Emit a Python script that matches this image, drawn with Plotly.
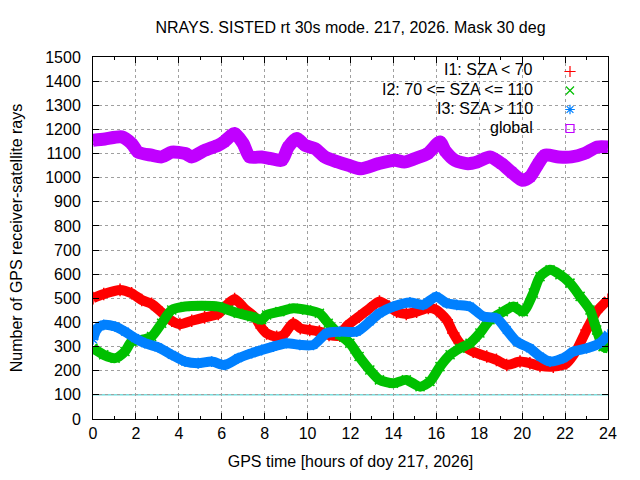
import plotly.graph_objects as go

# ---------------- data ----------------
title_text = "NRAYS. SISTED rt 30s mode. 217, 2026. Mask 30 deg"
x_title = "GPS time [hours of doy 217, 2026]"
y_title = "Number of GPS receiver-satellite rays"
legend_labels = ["I1: SZA < 70", "I2: 70 <= SZA <= 110", "I3: SZA > 110", "global"]
ref_level = 100

i1_hours = [0, 0.5, 1.26, 1.8, 2.27, 2.73, 3.2, 3.67, 4.05, 4.6, 5.2, 5.84, 6.2, 6.6, 7.08,
            7.55, 7.86, 8.09, 8.56, 8.87, 9.33, 9.66, 10.1, 10.55, 11.0, 11.5, 11.8, 12.4,
            12.9, 13.35, 13.8, 14.15, 14.6, 15.08, 15.63, 16.0, 16.48, 16.79, 17.1, 17.72,
            18.35, 18.8, 19.28, 19.9, 20.36, 20.83, 21.45, 22.07, 22.54, 23.0, 23.47, 24]
i1_rays = [501, 518, 535, 521, 493, 477, 442, 407, 393, 407, 421, 435, 469, 497, 456,
           421, 377, 355, 341, 348, 397, 376, 369, 362, 348, 345, 383, 425,
           459, 487, 466, 445, 435, 445, 460, 452, 411, 356, 314, 279,
           259, 245, 224, 238, 231, 220, 217, 231, 286, 369, 445, 494]

i2_hours = [0, 0.5, 1.03, 1.49, 1.8, 2.27, 2.73, 3.2, 3.67, 4.29, 5.06, 5.84, 6.3, 6.77,
            7.4, 7.86, 8.09, 8.71, 9.33, 9.96, 10.55, 10.96, 11.5, 11.97, 12.4, 12.9, 13.35,
            14.0, 14.6, 15.24, 15.7, 16.17, 16.64, 17.1, 17.57, 18.03, 18.5, 19.12, 19.59,
            20.05, 20.52, 20.83, 21.3, 21.76, 22.23, 22.7, 23.16, 23.47, 23.77, 24]
i2_rays = [293, 266, 252, 280, 321, 328, 342, 397, 452, 466, 469, 466, 452, 438,
           424, 411, 431, 445, 459, 452, 438, 397, 349, 314, 259, 203, 162,
           148, 162, 134, 155, 217, 266, 293, 314, 356, 411, 445, 466,
           445, 522, 590, 618, 598, 563, 508, 452, 369, 300, 293]

i3_hours = [0, 0.2, 0.5, 1.03, 1.49, 1.96, 2.42, 3.04, 3.67, 4.29, 4.9, 5.53, 6.15, 6.77,
            7.4, 7.86, 8.4, 9.02, 9.64, 10.27, 10.89, 11.5, 12.29, 12.9, 13.35, 14.0,
            14.77, 15.39, 16.0, 16.48, 16.95, 17.57, 18.19, 18.8, 19.28, 19.74, 20.36,
            20.83, 21.3, 21.92, 22.38, 23.0, 23.62, 24]
i3_rays = [330, 375, 390, 383, 362, 335, 314, 297, 266, 238, 231, 238, 224, 252,
           273, 286, 300, 314, 307, 307, 356, 362, 362, 404, 438, 466,
           483, 473, 507, 480, 473, 466, 425, 418, 369, 321, 293,
           259, 238, 252, 279, 293, 314, 349]

gl_hours = [0, 0.56, 1.34, 1.8, 2.1, 2.73, 3.2, 3.67, 4.3, 4.6, 5.2, 5.83, 6.1, 6.6, 7.0,
            7.3, 7.86, 8.3, 8.8, 9.1, 9.5, 9.88, 10.35, 10.8, 11.4, 11.9, 12.5, 13.3, 14.07,
            14.5, 15.0, 15.6, 16.17, 16.4, 16.87, 17.47, 17.9, 18.5, 19.04, 19.5, 20.0,
            20.36, 20.75, 21.06, 21.7, 22.3, 22.9, 23.5, 24]
gl_rays = [1155, 1160, 1169, 1141, 1106, 1093, 1086, 1106, 1100, 1086, 1113, 1134, 1148,
           1183, 1141, 1086, 1086, 1079, 1072, 1127, 1162, 1134, 1120, 1086, 1065, 1051,
           1037, 1058, 1072, 1065, 1079, 1100, 1148, 1113, 1072, 1058, 1065, 1086, 1058,
           1023, 989, 1003, 1058, 1093, 1086, 1086, 1100, 1127, 1127]

# ---------------- styles ----------------
FONT = "Liberation Sans, Arial, sans-serif"
FS = 16
series = [
    (i1_hours, i1_rays, "#ff0000", "cross-thin", 10, 9),
    (i2_hours, i2_rays, "#00c000", "x-thin", 10, 9),
    (i3_hours, i3_rays, "#0080ff", "asterisk", 10, 9),
    (gl_hours, gl_rays, "#c000ff", "square-open", 13, 8),
]

# page is drawn with an 8px body offset; figure sized so plot lands on the reference box
W, H = 632, 472
ML, MR, MT, MB = 85, 32, 49, 61

fig = go.Figure()
for hrs, vals, col, sym, lw, ms in series:
    fig.add_trace(go.Scatter(
        x=hrs, y=vals, mode="lines+markers",
        line=dict(color=col, width=lw, shape="spline", smoothing=0.7),
        marker=dict(symbol=sym, size=ms, color=col, line=dict(color=col, width=1.5)),
        showlegend=False, hoverinfo="skip"))

# legend proxies (symbol only; text drawn gnuplot-style to the left)
for (hrs, vals, col, sym, lw, ms), lab in zip(series, legend_labels):
    fig.add_trace(go.Scatter(
        x=[None], y=[None], mode="markers", name=" ",
        marker=dict(symbol=sym, size=8, color=col, line=dict(color=col, width=1.2)),
        showlegend=True))

# reference line
fig.add_hline(y=ref_level, line=dict(color="#33cccc", width=1), layer="below")

# white key box masking the grid (gnuplot opaque key)
fig.add_shape(type="rect", xref="paper", yref="paper", x0=0.472, x1=0.998, y0=0.779, y1=0.998,
              fillcolor="white", line=dict(width=0), layer="between")

# legend text (paper coords relative to the plot box 515 x 362 px)
row_px = [70, 89.3, 108.3, 127.3]
for lab, py in zip(legend_labels, row_px):
    fig.add_annotation(text=lab, xref="paper", yref="paper",
                       x=(535 - 93) / 515, y=(419 - py) / 362,
                       xanchor="right", yanchor="middle", showarrow=False,
                       font=dict(family=FONT, size=FS, color="#000000"))

axis_common = dict(showline=True, linecolor="black", linewidth=1, mirror="ticks",
                   ticks="inside", ticklen=6, tickcolor="black", automargin=False,
                   showgrid=True, gridcolor="#a0a0a0", griddash="3px,3px", gridwidth=1,
                   zeroline=False, tickfont=dict(family=FONT, size=FS, color="black"),
                   title_font=dict(family=FONT, size=FS, color="black"))

fig.update_xaxes(range=[0, 24], dtick=2, tick0=0,
                 minor=dict(dtick=1, ticks="inside", ticklen=3, tickcolor="black", showgrid=False),
                 title_text=x_title, title_standoff=14, **axis_common)
fig.update_yaxes(range=[0, 1500], dtick=100, tick0=0, ticklabelstandoff=8,
                 title_text=y_title, title_standoff=23, **axis_common)

fig.update_layout(
    width=W, height=H,
    margin=dict(l=ML, r=MR, t=MT, b=MB, autoexpand=False),
    paper_bgcolor="white", plot_bgcolor="white",
    font=dict(family=FONT, size=FS, color="black"),
    title=dict(text=title_text, x=0.5, xref="paper", xanchor="center",
               y=1 - 19 / H, yref="container", yanchor="middle",
               font=dict(family=FONT, size=FS, color="black")),
    legend=dict(x=(550 - 93) / 515, xanchor="left", y=1.0, yanchor="top",
                bgcolor="rgba(0,0,0,0)", borderwidth=0,
                font=dict(family=FONT, size=12), tracegroupgap=0),
)

fig.write_html("out.html")
